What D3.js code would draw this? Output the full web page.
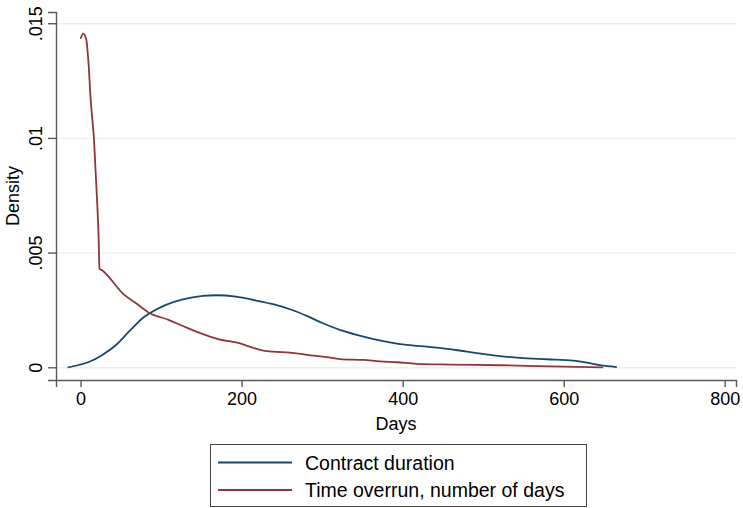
<!DOCTYPE html>
<html>
<head>
<meta charset="utf-8">
<script src="https://d3js.org/d3.v7.min.js"></script>
<style>
  body { margin: 0; background: #fff; }
  svg { font-family: 'Liberation Sans', Arial, sans-serif; }
  .axis .domain { stroke: #5a5a5a; stroke-width: 1.4px; }
  .axis .tick line { stroke: #5a5a5a; stroke-width: 1.4px; }
  .axis .tick text { font-size: 18px; fill: #000; }
  .grid .domain { display: none; }
  .grid .tick line { stroke: #e8f0f2; stroke-width: 1.4px; }
</style>
</head>
<body>
<div id="chart"></div>
<script>
  // kernel density estimates (days, density)
  var durationDays = [-16, -2, 11, 27, 44, 60, 77, 89, 106, 127, 152, 168, 193, 218, 239, 260, 281, 301, 322, 343, 364, 384, 405, 430, 446, 480, 513, 546, 579, 612, 629, 645, 666];
  var durationDens = [0, 0.0001, 0.00024, 0.00054, 0.00097, 0.00155, 0.00214, 0.00242, 0.00272, 0.00296, 0.00311, 0.00314, 0.00308, 0.00291, 0.00275, 0.00253, 0.00224, 0.00192, 0.00163, 0.00141, 0.00123, 0.00109, 0.00098, 0.0009, 0.00085, 0.00068, 0.00052, 0.00041, 0.00035, 0.00029, 0.0002, 0.00009, 0.00001];

  var overrunDays = [0, 3.3, 7, 10, 12.5, 14.5, 16.5, 18.6, 20.7, 22.4, 23.5, 28, 36, 40, 52, 69, 85, 110, 127, 147, 172, 197, 210, 227, 239, 260, 281, 306, 322, 351, 372, 393, 417, 459, 521, 583, 649];
  var overrunDens = [0.01432, 0.01455, 0.01430, 0.01320, 0.01170, 0.01085, 0.01003, 0.00860, 0.00715, 0.00569, 0.00430, 0.00420, 0.00390, 0.00373, 0.00323, 0.00279, 0.00238, 0.00206, 0.00180, 0.00151, 0.00122, 0.00105, 0.00090, 0.00073, 0.00068, 0.00064, 0.00054, 0.00044, 0.00036, 0.00032, 0.00026, 0.00022, 0.00015, 0.00012, 0.00009, 0.00004, 0.0];

  var seriesNames = ["Contract duration", "Time overrun, number of days"];
  var seriesColors = ["#1a476f", "#90353b"];

  var xTicks = [0, 200, 400, 600, 800];
  var yTicks = [0, 0.005, 0.01, 0.015];
  var yTickLabels = ["0", ".005", ".01", ".015"];

  var margin = {top: 12, right: 7, bottom: 128, left: 56},
    width = 743 - margin.left - margin.right,
    height = 508 - margin.top - margin.bottom;

  var svg = d3.select("#chart")
    .append("svg")
    .attr("width", 743)
    .attr("height", 508);

  var g = svg.append("g")
    .attr("transform", "translate(" + margin.left + "," + margin.top + ")");

  var x = d3.scaleLinear()
    .domain([-30.5, 814])
    .range([0, width]);

  var y = d3.scaleLinear()
    .domain([-0.000554, 0.01549])
    .range([height, 0]);

  // gridlines
  g.append("g")
    .attr("class", "grid")
    .call(d3.axisLeft(y).tickValues(yTicks).tickSize(-width).tickFormat(""));

  // axes
  g.append("g")
    .attr("class", "axis")
    .attr("transform", "translate(0," + height + ")")
    .call(d3.axisBottom(x).tickValues(xTicks).tickSizeOuter(0).tickSize(7).tickPadding(5));

  var yAxis = g.append("g")
    .attr("class", "axis")
    .call(d3.axisLeft(y).tickValues(yTicks).tickSizeOuter(0).tickSize(8)
      .tickFormat(function (d, i) { return yTickLabels[i]; }));

  yAxis.selectAll(".tick text")
    .attr("x", null).attr("dy", null)
    .attr("text-anchor", "middle")
    .attr("transform", "translate(-14,0) rotate(-90)");

  // axis titles
  svg.append("text")
    .attr("x", margin.left + width / 2)
    .attr("y", 430)
    .attr("text-anchor", "middle")
    .style("font-size", "18px")
    .text("Days");

  svg.append("text")
    .attr("transform", "translate(19," + (margin.top + height / 2) + ") rotate(-90)")
    .attr("text-anchor", "middle")
    .style("font-size", "18px")
    .text("Density");

  // curves
  var line = d3.line()
    .x(function (d) { return x(d[0]); })
    .y(function (d) { return y(d[1]); })
    .curve(d3.curveMonotoneX);

  var series = [
    d3.zip(durationDays, durationDens),
    d3.zip(overrunDays, overrunDens)
  ];

  g.selectAll(".curve")
    .data(series)
    .enter()
    .append("path")
    .attr("class", "curve")
    .attr("d", line)
    .style("fill", "none")
    .style("stroke", function (d, i) { return seriesColors[i]; })
    .style("stroke-width", 1.8);

  // legend
  var legend = svg.append("g");

  legend.append("rect")
    .attr("x", 210.5)
    .attr("y", 444.5)
    .attr("width", 376)
    .attr("height", 62)
    .style("fill", "#fff")
    .style("stroke", "#444")
    .style("stroke-width", 1);

  var items = legend.selectAll(".item")
    .data(seriesNames)
    .enter()
    .append("g")
    .attr("transform", function (d, i) { return "translate(0," + (462.5 + i * 27.5) + ")"; });

  items.append("line")
    .attr("x1", 218).attr("x2", 292)
    .style("stroke", function (d, i) { return seriesColors[i]; })
    .style("stroke-width", 1.8);

  items.append("text")
    .attr("x", 305)
    .attr("y", 7)
    .style("font-size", "19.5px")
    .text(function (d) { return d; });
</script>
</body>
</html>
